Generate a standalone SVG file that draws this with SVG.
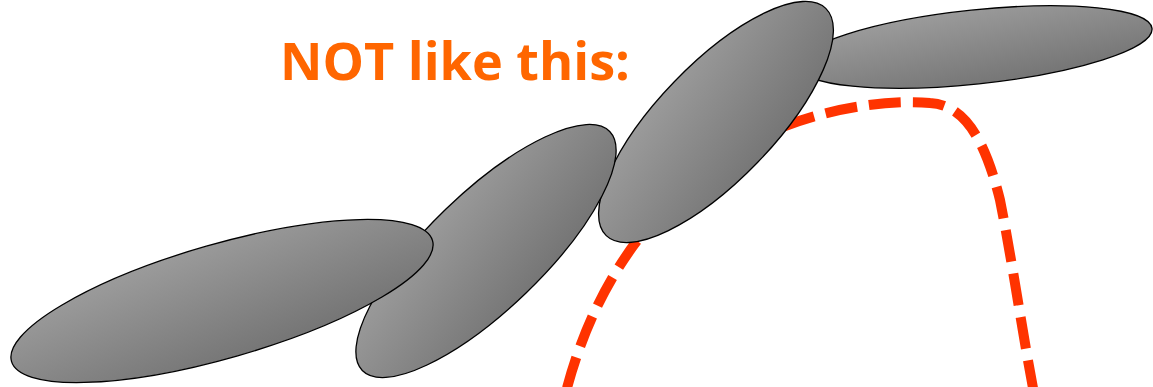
<svg xmlns="http://www.w3.org/2000/svg" width="1153" height="387" viewBox="0 0 1153 387">
  <defs>
    <linearGradient id="g" x1="0.3" y1="0" x2="0.7" y2="1">
      <stop offset="0" stop-color="#9c9c9c"/>
      <stop offset="1" stop-color="#747474"/>
    </linearGradient>
    <style>
      .blob { fill: url(#g); stroke: #000; stroke-width: 1.3; }
      .path { fill: none; stroke: #ff3300; stroke-width: 10; stroke-dasharray: 32 12; }
      .title { font-family: "Open Sans", "Liberation Sans", sans-serif; font-weight: bold; font-size: 52px; fill: #ff6600; }
    </style>
  </defs>
  <rect width="1153" height="387" fill="#ffffff"/>
  <g id="title"><text class="title" x="280" y="80" textLength="350" lengthAdjust="spacingAndGlyphs">NOT like this:</text></g>
  <g id="segment4"><ellipse class="blob" cx="975" cy="47" rx="178" ry="37" transform="rotate(-6 975 47)"/></g>
  <g id="connectors"><path class="path" d="M567,388 C588,310 640,190 780,128 C840,104 900,100 930,103 C965,105 985,140 1000,200 C1012,260 1022,330 1033,388"/></g>
  <g id="segment3"><ellipse class="blob" cx="716" cy="122" rx="158" ry="58" transform="rotate(-46 716 122)"/></g>
  <g id="segment2"><ellipse class="blob" cx="486" cy="251" rx="172" ry="58" transform="rotate(-44 486 251)"/></g>
  <g id="segment1"><ellipse class="blob" cx="222" cy="301" rx="219" ry="57" transform="rotate(-16 222 301)"/></g>
</svg>
